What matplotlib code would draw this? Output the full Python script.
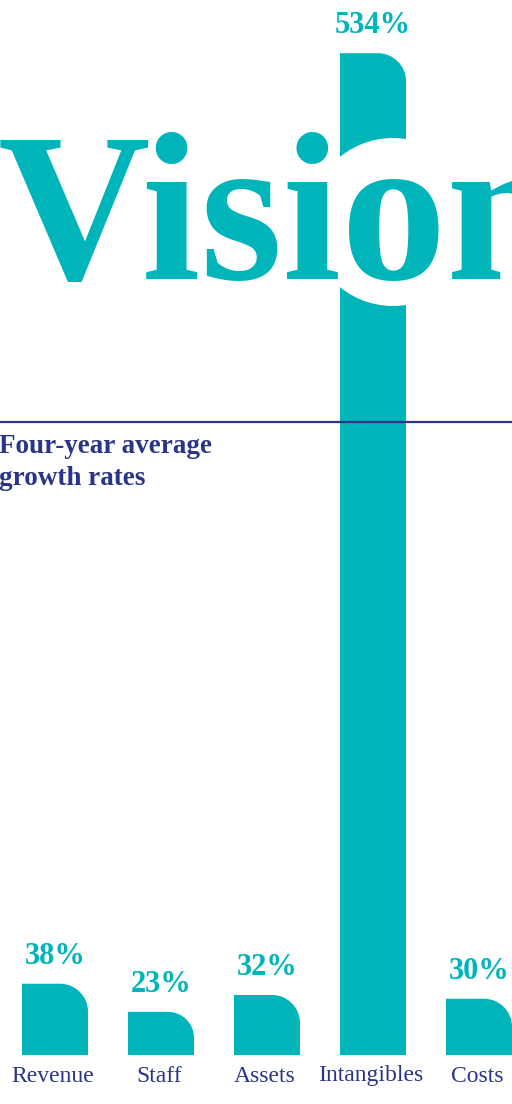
import matplotlib
matplotlib.use("Agg")
import matplotlib.pyplot as plt
from matplotlib.path import Path
from matplotlib import patches
from matplotlib.lines import Line2D

categories = ["Revenue", "Staff", "Assets", "Intangibles", "Costs"]
growth = [38, 23, 32, 534, 30]
value_labels = ["38%", "23%", "32%", "534%", "30%"]

TEAL = "#00b5b9"
NAVY = "#2b3588"
W, H = 512, 1104

fig = plt.figure(figsize=(W / 100, H / 100), dpi=100)
ax = fig.add_axes([0, 0, 1, 1])
fig.patch.set_facecolor("white")

# pixel mapping: 1 category step = 106 px, 1 % = 1.876 px, zero line at y=1055 px
step_px, pct_px = 106.0, 1.876
x0_px, base_px = 55.0, 49.0
ax.set_xlim(-x0_px / step_px, (W - x0_px) / step_px)
ax.set_ylim(-base_px / pct_px, (H - base_px) / pct_px)
ax.axis("off")

bar_w = 66 / step_px
rad_px = 28


def rounded_bar(xc, h):
    # bar with only the top-right corner rounded
    r = min(rad_px, h * pct_px * 0.6)
    rx, ry = r / step_px, r / pct_px
    k = 0.5523
    xl, xr = xc - bar_w / 2, xc + bar_w / 2
    verts = [(xl, 0), (xl, h), (xr - rx, h),
             (xr - rx + k * rx, h), (xr, h - ry + k * ry), (xr, h - ry),
             (xr, 0), (xl, 0)]
    codes = [Path.MOVETO, Path.LINETO, Path.LINETO,
             Path.CURVE4, Path.CURVE4, Path.CURVE4,
             Path.LINETO, Path.CLOSEPOLY]
    return patches.PathPatch(Path(verts, codes), facecolor=TEAL, edgecolor="none", zorder=2)


# navy rule behind the bars
fig.add_artist(Line2D([0, 1], [1 - 422 / H, 1 - 422 / H], color=NAVY, lw=1.6, zorder=1))

for i, (cat, v, lab) in enumerate(zip(categories, growth, value_labels)):
    ax.add_patch(rounded_bar(i, v))
    ax.annotate(lab, xy=(i, v), xytext=(0, 14.5), textcoords="offset points",
                ha="center", va="baseline", color=TEAL, fontsize=22,
                fontweight="bold", family="Liberation Serif", zorder=4)
    ax.text(i - 0.02, -26.5 / pct_px, cat, ha="center", va="baseline", color=NAVY,
            fontsize=17, family="Liberation Serif", zorder=4)

# white ring cut out of the tall bar around the "o"
ring_cx, ring_cy, ring_r = 393, 222, 84
ax.add_patch(patches.Ellipse(((ring_cx - x0_px) / step_px, (H - ring_cy - base_px) / pct_px),
                             2 * ring_r / step_px, 2 * ring_r / pct_px,
                             facecolor="white", edgecolor="none", zorder=3))

fig.text(-2 / W, 1 - 279 / H, "Vision", ha="left", va="baseline", color=TEAL,
         fontsize=152, fontweight="bold", family="Liberation Serif", zorder=5)

fig.text(-1 / W, 1 - 453 / H, "Four-year average", ha="left", va="baseline",
         color=NAVY, fontsize=19.5, fontweight="bold", family="Liberation Serif")
fig.text(-1 / W, 1 - 485 / H, "growth rates", ha="left", va="baseline",
         color=NAVY, fontsize=19.5, fontweight="bold", family="Liberation Serif")

fig.savefig("out.png", dpi=100)
